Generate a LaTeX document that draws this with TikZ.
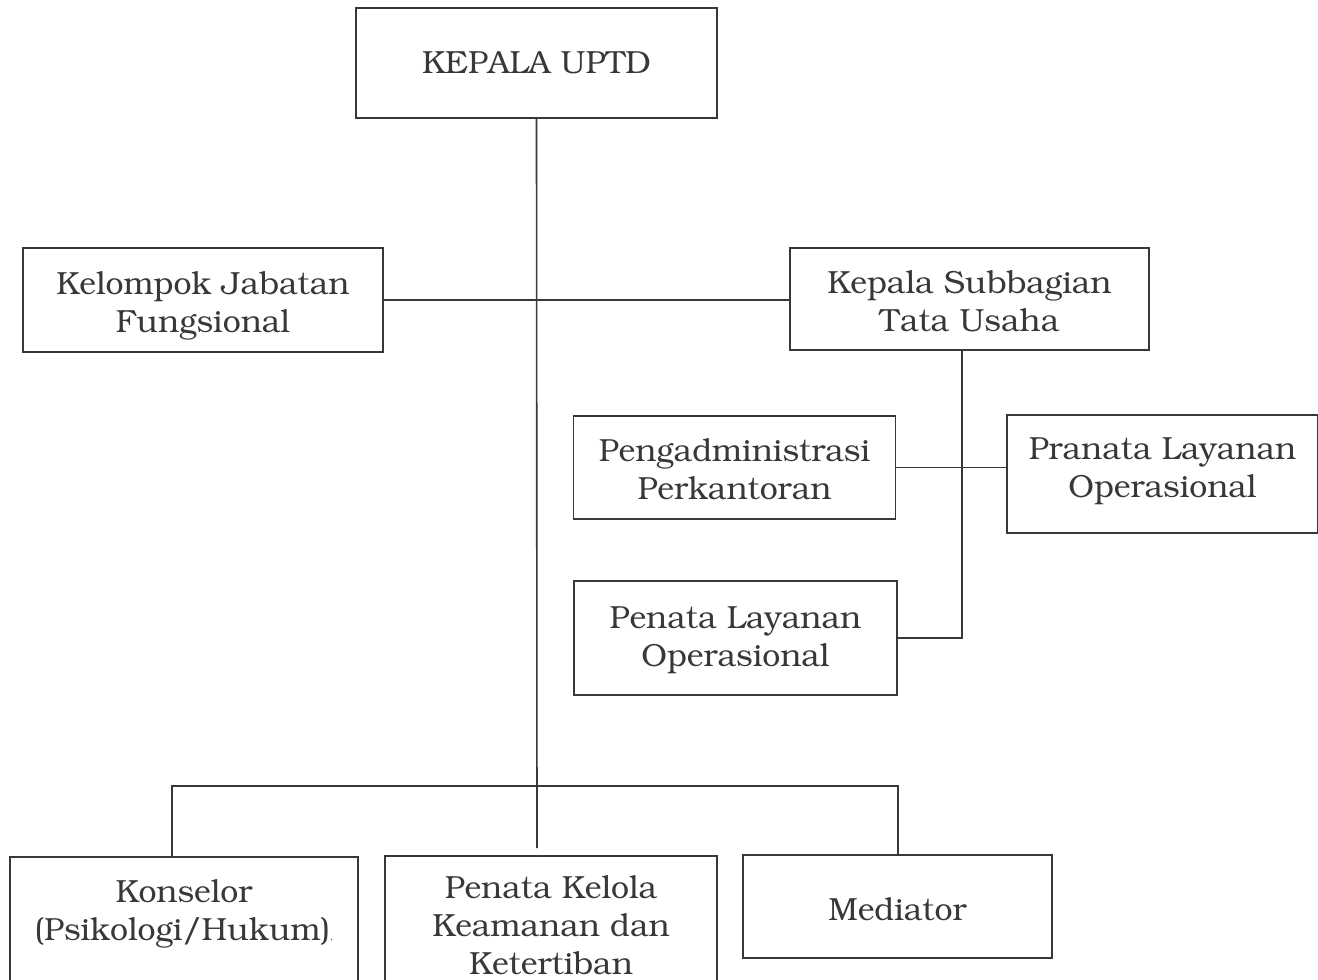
\documentclass[tikz,border=0pt]{standalone}
\usepackage[T1]{fontenc}
\usepackage{bookman}
\usetikzlibrary{calc}
\definecolor{ink}{HTML}{383838}
\tikzset{
  orgbox/.style={draw=ink, line width=0.8pt, inner sep=0pt},
  txt/.style={text=ink, align=center, inner sep=0pt, font=\fontsize{16}{19}\selectfont},
  link/.style={draw=ink, line width=0.8pt}
}
\begin{document}
\begin{tikzpicture}[x=0.5pt,y=-0.5pt]
\clip (0,0) rectangle (1318,980);
\fill[white] (0,0) rectangle (1318,980);
\node[orgbox, minimum width=180.5pt, minimum height=55pt,
  label={[txt]center:KEPALA UPTD}] (ku) at (536.5,63) {};
\node[orgbox, minimum width=180pt, minimum height=52pt,
  label={[txt, yshift=-3pt]center:Kelompok Jabatan\\Fungsional}] (kjf) at (203,300) {};
\node[orgbox, minimum width=179.5pt, minimum height=51pt,
  label={[txt, yshift=-1.5pt]center:Kepala Subbagian\\Tata Usaha}] (ksu) at (969.5,299) {};
\node[orgbox, minimum width=161pt, minimum height=51.5pt,
  label={[txt, yshift=-1pt]center:Pengadministrasi\\Perkantoran}] (pp) at (734.5,467.5) {};
\node[orgbox, minimum width=161.5pt, minimum height=57pt,
  label={[txt, yshift=-1.2pt]center:Penata Layanan\\Operasional}] (plo) at (735.5,638) {};
\node[orgbox, minimum width=155.5pt, minimum height=59pt,
  label={[txt, yshift=1.5pt]center:Pranata Layanan\\Operasional}] (prl) at (1162.5,474) {};
\node[orgbox, minimum width=174pt, minimum height=71pt,
  label={[txt, yshift=7pt]center:Konselor\\(Psikologi/Hukum){\tiny.}}] (kons) at (184,928) {};
\node[orgbox, minimum width=166pt, minimum height=71pt,
  label={[txt, yshift=1pt]center:Penata Kelola\\Keamanan dan\\Ketertiban}] (pk) at (551,927) {};
\node[orgbox, minimum width=154.5pt, minimum height=51.5pt,
  label={[txt, yshift=-1.5pt]center:Mediator}] (med) at (897.5,906.5) {};
\coordinate (mainend) at (537,848);
\coordinate (vx) at (962,0);
\coordinate (bl) at (172,786);
\coordinate (br) at (898,786);
\draw[link] (ku.south) -- (mainend);
\draw[link] (kjf.east) -- (kjf.east -| ksu.west);
\draw[link] (ksu.south -| vx) |- (plo.east);
\draw[link] (pp.east) -- (pp.east -| prl.west);
\draw[link] (kons.north -| bl) -- (bl) -- (br) -- (br |- med.north);
\end{tikzpicture}
\end{document}
